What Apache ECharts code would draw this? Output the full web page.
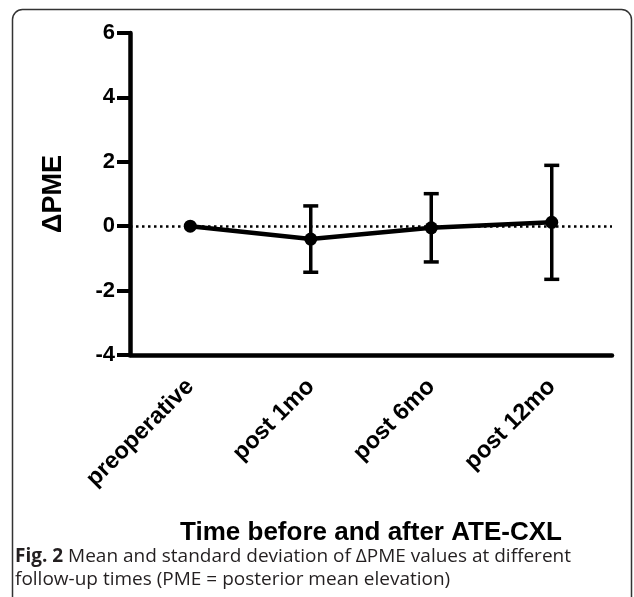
<!DOCTYPE html>
<html><head><meta charset="utf-8">
<script src="https://cdn.jsdelivr.net/npm/echarts@6/dist/echarts.min.js"></script>
<style>html,body{margin:0;padding:0;background:#fff}#c{width:634px;height:597px}</style>
</head><body><div id="c"></div>
<script>
var categories = ['preoperative', 'post 1mo', 'post 6mo', 'post 12mo'];
var means = [0, -0.40, -0.05, 0.12];
var sds = [0, 1.03, 1.06, 1.77];
var yTicks = { min: -4, max: 6, interval: 2 };
var xTitle = 'Time before and after ATE-CXL';
var yTitle = '\u0394PME';
var captionBold = 'Fig. 2';
var captionLine1 = ' Mean and standard deviation of \u0394PME values at different';
var captionLine2 = 'follow-up times (PME = posterior mean elevation)';

var chart = echarts.init(document.getElementById('c'), null, { renderer: 'canvas' });
var F = '"Liberation Sans", Arial, sans-serif';
var option = {
  animation: false,
  backgroundColor: '#fff',
  grid: { left: 130, right: 22, top: 33, bottom: 242 },
  xAxis: {
    type: 'category', data: categories, boundaryGap: true,
    axisLine: { onZero: false, lineStyle: { color: '#000', width: 4.5 } },
    axisTick: { alignWithLabel: true, length: 12, lineStyle: { color: '#000', width: 4 } },
    axisLabel: { rotate: 45, margin: 28, color: '#000', fontFamily: F, fontWeight: 'bold', fontSize: 23.5 },
    name: xTitle, nameLocation: 'middle', nameGap: 165,
    nameTextStyle: { color: '#000', fontFamily: F, fontWeight: 'bold', fontSize: 26 }
  },
  yAxis: {
    type: 'value', min: yTicks.min, max: yTicks.max, interval: yTicks.interval,
    splitLine: { show: false },
    axisLine: { show: true, lineStyle: { color: '#000', width: 4.5 } },
    axisTick: { show: true, length: 13, lineStyle: { color: '#000', width: 4 } },
    axisLabel: { margin: 15, color: '#000', fontFamily: F, fontWeight: 'bold', fontSize: 22 },
    name: yTitle, nameLocation: 'middle', nameGap: 63, nameRotate: 90,
    nameTextStyle: { color: '#000', fontFamily: F, fontWeight: 'bold', fontSize: 27 }
  },
  series: [
    {
      type: 'line', data: means, symbol: 'circle', symbolSize: 13, z: 4,
      lineStyle: { color: '#000', width: 4.5 }, itemStyle: { color: '#000' },
      markLine: {
        silent: true, symbol: ['none', 'none'], label: { show: false },
        lineStyle: { color: '#000', width: 2.5, type: [2.5, 3.5] },
        data: [{ yAxis: 0 }], z: 1
      }
    },
    {
      type: 'custom', z: 3,
      data: categories.map(function (c, i) { return [i, means[i] + sds[i], means[i] - sds[i]]; }),
      renderItem: function (params, api) {
        var i = api.value(0), hi = api.value(1), lo = api.value(2);
        if (hi === lo) return null;
        var p1 = api.coord([i, hi]), p2 = api.coord([i, lo]);
        var w = 7.5;
        var st = { stroke: '#000', lineWidth: 3.5 };
        return { type: 'group', children: [
          { type: 'line', shape: { x1: p1[0], y1: p1[1], x2: p2[0], y2: p2[1] }, style: st },
          { type: 'line', shape: { x1: p1[0] - w, y1: p1[1], x2: p1[0] + w, y2: p1[1] }, style: st },
          { type: 'line', shape: { x1: p2[0] - w, y1: p2[1], x2: p2[0] + w, y2: p2[1] }, style: st }
        ] };
      }
    }
  ],
  graphic: [
    { type: 'rect', shape: { x: 12.5, y: 9.5, width: 619, height: 620, r: 10 },
      style: { fill: 'none', stroke: '#333', lineWidth: 1.5 }, z: 100 },
    { type: 'text', left: 15, top: 547, z: 100,
      style: { text: '{b|' + captionBold + '}{r|' + captionLine1 + '}', rich: {
        b: { fontFamily: '"Open Sans", sans-serif', fontWeight: 'bold', fontSize: 19, fill: '#231f20' },
        r: { fontFamily: '"Open Sans", sans-serif', fontSize: 19, fill: '#231f20' } } } },
    { type: 'text', left: 15, top: 570, z: 100,
      style: { text: captionLine2, fontFamily: '"Open Sans", sans-serif', fontSize: 19, fill: '#231f20' } }
  ]
};
chart.setOption(option);
</script></body></html>
